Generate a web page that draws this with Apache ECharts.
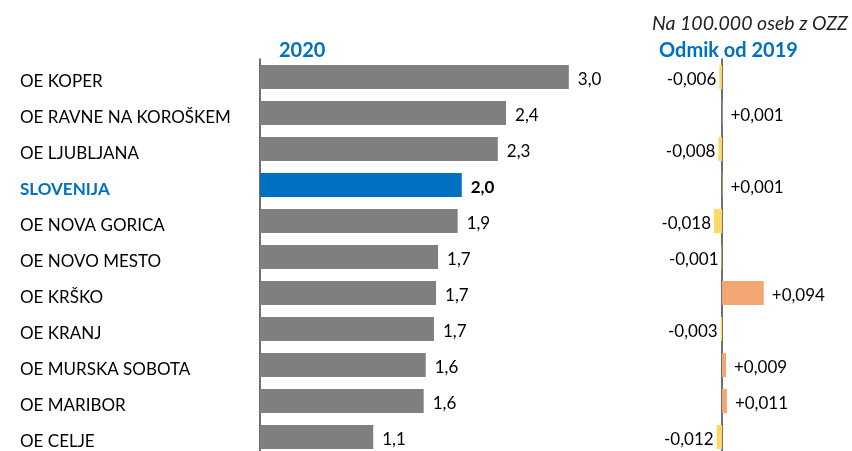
<!DOCTYPE html>
<html>
<head>
<meta charset="utf-8">
<script src="https://cdn.jsdelivr.net/npm/echarts@6/dist/echarts.min.js"></script>
<style>
html, body { margin: 0; padding: 0; background: #fff; overflow: hidden; }
#chart { width: 852px; height: 460px; }
</style>
</head>
<body>
<div id="chart"></div>
<script>
const categories = ['OE KOPER', 'OE RAVNE NA KOROŠKEM', 'OE LJUBLJANA', 'SLOVENIJA', 'OE NOVA GORICA',
  'OE NOVO MESTO', 'OE KRŠKO', 'OE KRANJ', 'OE MURSKA SOBOTA', 'OE MARIBOR', 'OE CELJE'];
// 2020 values (labels show one decimal)
const values2020 = [3.0, 2.39, 2.31, 1.96, 1.92, 1.73, 1.71, 1.69, 1.61, 1.59, 1.10];
const diffFrom2019 = [-0.006, 0.001, -0.008, 0.001, -0.018, -0.001, 0.094, -0.003, 0.009, 0.011, -0.012];
const highlight = 'SLOVENIJA';

const FONT = 'Lato, "Noto Sans", sans-serif';
const BLUE = '#0070C0';

const leftData = values2020.map((v, i) => {
  const hl = categories[i] === highlight;
  return {
    value: v,
    itemStyle: { color: hl ? BLUE : '#7F7F7F' },
    label: { fontWeight: hl ? 'bold' : 'normal' }
  };
});

const rightData = diffFrom2019.map(v => ({
  value: v,
  itemStyle: { color: v < 0 ? '#FFD966' : '#F4A672' },
  label: { position: v < 0 ? 'left' : 'right', distance: v < 0 ? 3 : 8 }
}));

const option = {
  animation: false,
  textStyle: { fontFamily: FONT },
  title: [
    { text: '2020', left: 274, top: 36, textStyle: { color: BLUE, fontSize: 20, fontWeight: 'bold', fontFamily: FONT } },
    { text: 'Odmik od 2019', left: 654, top: 36, textStyle: { color: BLUE, fontSize: 20, fontWeight: 'bold', fontFamily: FONT } },
    { text: 'Na 100.000 oseb z OZZ', left: 647, top: 9, textStyle: { color: '#222', fontSize: 19.5, fontStyle: 'italic', fontWeight: 'normal', fontFamily: FONT } }
  ],
  grid: [
    { left: 260, top: 59, width: 350, height: 396 },
    { left: 602, top: 59, width: 250, height: 396 }
  ],
  xAxis: [
    { gridIndex: 0, type: 'value', min: 0, max: 3.4, show: false },
    { gridIndex: 1, type: 'value', min: -0.27, max: 0.2925, show: false }
  ],
  yAxis: [
    {
      gridIndex: 0, type: 'category', data: categories, inverse: true,
      axisLine: { lineStyle: { color: '#404040', width: 1.5 } },
      axisTick: { show: false },
      axisLabel: {
        align: 'left', margin: 240, fontSize: 17, color: '#000', fontFamily: FONT,
        padding: [10, 0, 0, 0],
        formatter: v => v === highlight ? '{hl|' + v + '}' : v,
        rich: { hl: { color: BLUE, fontWeight: 'bold', fontSize: 17, fontFamily: FONT } }
      }
    },
    {
      gridIndex: 1, type: 'category', data: categories, inverse: true,
      axisLine: { onZero: true, lineStyle: { color: '#404040', width: 1.5 } },
      axisTick: { show: false },
      axisLabel: { show: false }
    }
  ],
  series: [
    {
      type: 'bar', xAxisIndex: 0, yAxisIndex: 0, data: leftData, barWidth: 24,
      label: {
        show: true, position: 'right', distance: 9, fontSize: 17, color: '#000', fontFamily: FONT,
        offset: [0, 3],
        formatter: p => p.value.toFixed(1).replace('.', ',')
      }
    },
    {
      type: 'bar', xAxisIndex: 1, yAxisIndex: 1, data: rightData, barWidth: 24,
      label: {
        show: true, fontSize: 17, color: '#000', fontFamily: FONT,
        offset: [0, 3],
        formatter: p => (p.value > 0 ? '+' : '') + p.value.toFixed(3).replace('.', ',')
      }
    }
  ]
};

const chart = echarts.init(document.getElementById('chart'));
chart.setOption(option);
window.addEventListener('resize', () => chart.resize());
</script>
</body>
</html>
